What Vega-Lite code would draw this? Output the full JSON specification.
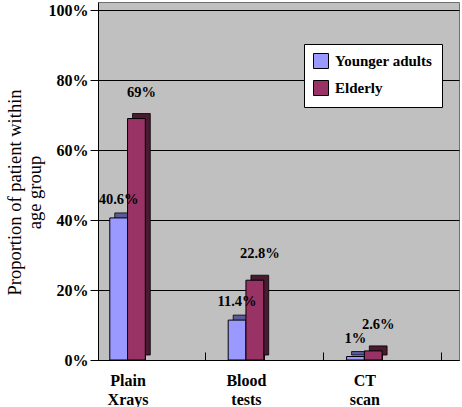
{
  "$schema": "https://vega.github.io/schema/vega-lite/v6.json",
  "width": 361,
  "height": 358,
  "autosize": {"type": "none"},
  "padding": {"left": 98, "top": 2, "right": 3, "bottom": 47},
  "background": "white",
  "config": {
    "view": {"fill": "#C0C0C0", "stroke": "#707070"},
    "font": "Liberation Serif, Times New Roman, serif"
  },
  "data": {
    "values": [
      {"category": "Plain Xrays", "group": "Younger adults", "value": 40.6, "label": "40.6%"},
      {"category": "Plain Xrays", "group": "Elderly", "value": 69, "label": "69%"},
      {"category": "Blood tests", "group": "Younger adults", "value": 11.4, "label": "11.4%"},
      {"category": "Blood tests", "group": "Elderly", "value": 22.8, "label": "22.8%"},
      {"category": "CT scan", "group": "Younger adults", "value": 1, "label": "1%"},
      {"category": "CT scan", "group": "Elderly", "value": 2.6, "label": "2.6%"}
    ]
  },
  "encoding": {
    "x": {
      "field": "category",
      "type": "nominal",
      "scale": {"domain": ["Plain Xrays", "e1", "Blood tests", "e2", "CT scan", "e3"], "paddingInner": 0.4, "paddingOuter": 0.249, "align": 0.4},
      "axis": {
        "title": null,
        "labelAngle": 0,
        "labelExpr": "indexof(['e1','e2','e3'], datum.label) >= 0 ? '' : split(datum.label, ' ')",
        "labelFont": "Liberation Serif, Times New Roman, serif",
        "labelFontWeight": "bold",
        "labelFontSize": 16,
        "labelColor": "black",
        "labelLineHeight": 19,
        "labelBaseline": "top",
        "labelPadding": 20,
        "tickBand": "extent",
        "tickSize": -8,
        "tickColor": "black",
        "domainColor": "black",
        "grid": false
      }
    },
    "y": {
      "field": "value",
      "type": "quantitative",
      "scale": {"domain": [0, 102.3], "nice": false},
      "axis": {
        "values": [0, 20, 40, 60, 80, 100],
        "labelExpr": "datum.value + '%'",
        "labelFont": "Liberation Serif, Times New Roman, serif",
        "labelFontWeight": "bold",
        "labelFontSize": 16,
        "labelColor": "black",
        "labelPadding": 2,
        "tickSize": 8,
        "tickColor": "black",
        "domainColor": "black",
        "grid": true,
        "gridColor": "black",
        "gridOpacity": 1,
        "title": ["Proportion of patient within", "age group"],
        "titleFont": "Liberation Serif, Times New Roman, serif",
        "titleFontWeight": "normal",
        "titleFontSize": 18.5,
        "titleColor": "black",
        "titleLineHeight": 20,
        "titleBaseline": "top",
        "titleX": -93,
        "titleY": 190
      }
    }
  },
  "layer": [
    {
      "mark": {"type": "bar", "yOffset": -5, "stroke": "black", "strokeWidth": 0.8},
      "encoding": {
        "xOffset": {"field": "group", "scale": {"domain": ["Younger adults", "Elderly"], "range": [5, 40.5]}},
        "fill": {"condition": {"test": "datum.group === 'Elderly'", "value": "#4A1A30"}, "value": "#5A5A99"}
      }
    },
    {
      "mark": {"type": "bar", "stroke": "black", "strokeWidth": 1},
      "encoding": {
        "xOffset": {"field": "group", "scale": {"domain": ["Younger adults", "Elderly"]}},
        "color": {
          "field": "group",
          "scale": {"domain": ["Younger adults", "Elderly"], "range": ["#9999FF", "#993366"]},
          "legend": {
            "orient": "none",
            "legendX": 206,
            "legendY": 42,
            "title": null,
            "fillColor": "white",
            "strokeColor": "black",
            "padding": 9,
            "labelFont": "Liberation Serif, Times New Roman, serif",
            "labelFontWeight": "bold",
            "labelFontSize": 15,
            "labelColor": "black",
            "labelOffset": 6,
            "symbolType": "square",
            "symbolSize": 225,
            "symbolStrokeColor": "black",
            "symbolStrokeWidth": 1,
            "symbolOpacity": 1,
            "rowPadding": 7
          }
        }
      }
    },
    {
      "transform": [{"filter": "datum.group === 'Younger adults'"}],
      "mark": {"type": "text", "fontWeight": "bold", "fontSize": 14.5, "font": "Liberation Serif, Times New Roman, serif", "baseline": "middle", "dy": -18, "dx": 0, "color": "black"},
      "encoding": {
        "xOffset": {"field": "group", "scale": {"domain": ["Younger adults", "Elderly"]}},
        "text": {"field": "label"}
      }
    },
    {
      "transform": [{"filter": "datum.group === 'Elderly'"}],
      "mark": {"type": "text", "fontWeight": "bold", "fontSize": 14.5, "font": "Liberation Serif, Times New Roman, serif", "baseline": "middle", "dy": -26, "dx": 5, "color": "black"},
      "encoding": {
        "xOffset": {"field": "group", "scale": {"domain": ["Younger adults", "Elderly"]}},
        "text": {"field": "label"}
      }
    }
  ],
  "resolve": {"scale": {"xOffset": "independent"}}
}
